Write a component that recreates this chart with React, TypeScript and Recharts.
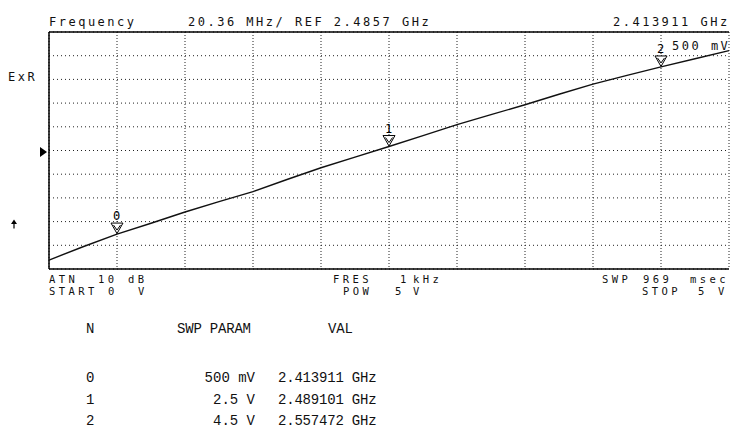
import React from 'react';
import { ComposedChart, Line, Scatter, XAxis, YAxis, CartesianGrid, ReferenceLine } from 'recharts';

// Sweep parameter (V) and measured frequency (GHz)
const sweepVolts = [0, 0.25, 0.5, 0.75, 1.0, 1.25, 1.5, 1.75, 2.0, 2.25, 2.5, 2.75, 3.0, 3.25, 3.5, 3.75, 4.0, 4.25, 4.5, 4.75, 5.0];
const freqGHz = [2.3916, 2.4030, 2.4139, 2.4232, 2.4329, 2.4418, 2.4504, 2.4608, 2.4709, 2.4800, 2.4891, 2.4985, 2.5079, 2.5165, 2.5250, 2.5340, 2.5427, 2.5502, 2.5575, 2.5645, 2.5715];

// Markers
const markerIds = ['0', '1', '2'];
const markerVolts = [0.5, 2.5, 4.5];
const markerFreqGHz = [2.413911, 2.489101, 2.557472];
const markerParamLabels = ['500 mV', '2.5 V', '4.5 V'];
const markerValLabels = ['2.413911 GHz', '2.489101 GHz', '2.557472 GHz'];

// Scale settings
const refGHz = 2.4857;
const perDivGHz = 0.02036;
const xTicks = [0, 0.5, 1, 1.5, 2, 2.5, 3, 3.5, 4, 4.5];
const yTicks = [-5, -4, -3, -2, -1, 0, 1, 2, 3, 4, 5].map((d) => refGHz + d * perDivGHz);
const yMin = yTicks[0];
const yMax = yTicks[yTicks.length - 1];

const data = sweepVolts.map((v, i) => ({ v, f: freqGHz[i] }));
const markerData = markerVolts.map((v, i) => ({ v, f: markerFreqGHz[i], id: markerIds[i] }));

const MONO = '"DejaVu Sans Mono", monospace';
const TABLE = '"Liberation Mono", monospace';

const MarkerShape = (props: any) => {
  const { cx, cy, payload } = props;
  if (cx == null || cy == null) return null;
  const top = cy - 11;
  return (
    <g>
      <path d={`M${cx - 6},${top} L${cx + 6},${top} L${cx},${cy - 0.5} Z`} fill="#fff" stroke="#000" strokeWidth={1} />
      <path d={`M${cx - 3.5},${top + 2} L${cx},${cy - 4}  L${cx + 3.5},${top + 2}`} fill="none" stroke="#000" strokeWidth={1} />
      <text x={cx - 4} y={top - 3} fontFamily={MONO} fontSize={12} fill="#000">{payload.id}</text>
    </g>
  );
};

const T = ({ x, y, children, font = MONO, size = 12, ls = 2.5, anchor = 'start' }: any) => (
  <text x={x} y={y} fontFamily={font} fontSize={size} letterSpacing={ls} textAnchor={anchor} fill="#111">{children}</text>
);

const B = (p: any) => <T size={10.5} ls={3.4} {...p} />;

export default function App() {
  return (
    <div style={{ position: 'absolute', left: 0, top: 0, width: 730, height: 429, background: '#fff' }}>
      <ComposedChart width={730} height={429} data={data} margin={{ top: 32, right: 1, bottom: 160, left: 49 }}>
        <XAxis dataKey="v" type="number" domain={[0, 5]} ticks={xTicks} hide />
        <YAxis type="number" domain={[yMin, yMax]} ticks={yTicks} allowDataOverflow hide />
        <CartesianGrid horizontal vertical={false} stroke="#222" strokeDasharray="1 3" />
        <CartesianGrid horizontal={false} vertical stroke="#222" strokeDasharray="1 2" />
        <ReferenceLine y={yMax} stroke="#000" strokeWidth={1.5} />
        <ReferenceLine y={yMin} stroke="#000" strokeWidth={1.5} />
        <ReferenceLine x={0} stroke="#000" strokeWidth={1.5} />
        <Line type="linear" dataKey="f" stroke="#111" strokeWidth={1.4} dot={false} isAnimationActive={false} />
        <Scatter data={markerData} dataKey="f" shape={MarkerShape} isAnimationActive={false} />
      </ComposedChart>
      <svg width={730} height={429} style={{ position: 'absolute', left: 0, top: 0, pointerEvents: 'none' }}>
        <T x={49} y={26}>Frequency</T>
        <T x={188} y={26}>20.36 MHz/ REF 2.4857 GHz</T>
        <T x={613} y={26}>2.413911 GHz</T>
        <T x={8} y={81}>ExR</T>
        <T x={672} y={50}>{markerParamLabels[0]}</T>
        <path d="M40,147 L47,152 L40,157 Z" fill="#000" />
        <path d="M14,219.5 L11,224 L17,224 Z M13.4,223 L13.4,228.5 L14.6,228.5 L14.6,223 Z" fill="#000" />

        <B x={49} y={283}>ATN</B>
        <B x={98} y={283}>10</B>
        <B x={128} y={283}>dB</B>
        <B x={49} y={295}>START</B>
        <B x={108} y={295}>0</B>
        <B x={138} y={295}>V</B>

        <B x={333} y={283}>FRES</B>
        <B x={400} y={283}>1</B>
        <B x={413} y={283}>kHz</B>
        <B x={343} y={295}>POW</B>
        <B x={395} y={295}>5</B>
        <B x={413} y={295}>V</B>

        <B x={602} y={283}>SWP</B>
        <B x={643} y={283}>969</B>
        <B x={690} y={283}>msec</B>
        <B x={642} y={295}>STOP</B>
        <B x={698} y={295}>5</B>
        <B x={718} y={295}>V</B>

        <T x={86} y={333} font={TABLE} size={14} ls={-0.2}>N</T>
        <T x={177} y={333} font={TABLE} size={14} ls={-0.2}>SWP PARAM</T>
        <T x={328} y={333} font={TABLE} size={14} ls={-0.2}>VAL</T>
        {markerIds.map((id, i) => (
          <g key={id}>
            <T x={86} y={382 + i * 21.5} font={TABLE} size={14} ls={-0.2}>{id}</T>
            <T x={255} y={382 + i * 21.5} font={TABLE} size={14} ls={0} anchor="end">{markerParamLabels[i]}</T>
            <T x={278} y={382 + i * 21.5} font={TABLE} size={14} ls={-0.2}>{markerValLabels[i]}</T>
          </g>
        ))}
      </svg>
    </div>
  );
}
